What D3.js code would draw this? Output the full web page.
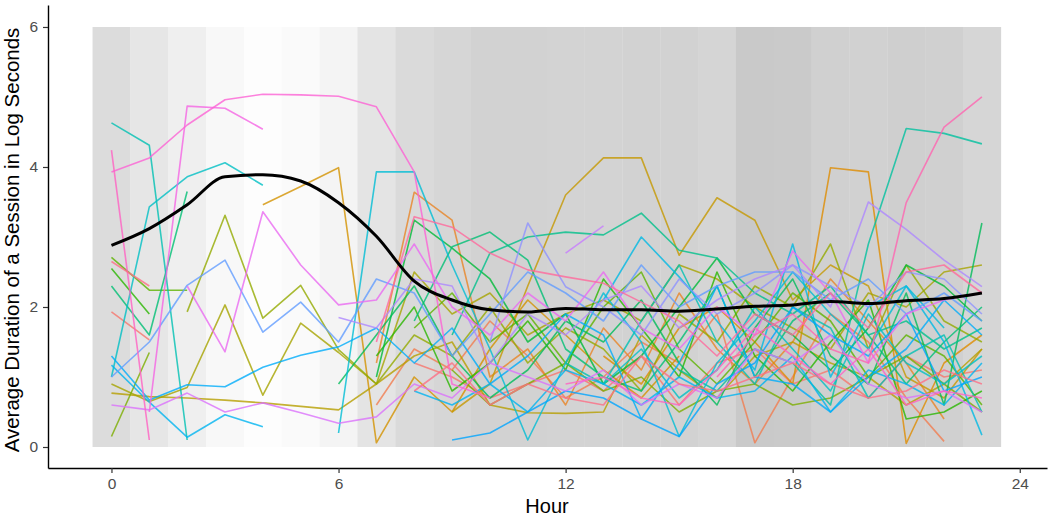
<!DOCTYPE html>
<html>
<head>
<meta charset="utf-8">
<script src="https://cdn.jsdelivr.net/npm/d3@7"></script>
<style>
html,body{margin:0;padding:0;background:#fff;}
svg{display:block;font-family:"Liberation Sans",Arial,sans-serif;}
</style>
</head>
<body>
<svg id="chart" width="1050" height="517"></svg>
<script>
const _ = null;
const hours = d3.range(24);
const xTicks = [0, 6, 12, 18, 24];
const yTicks = [0, 2, 4, 6];
// grey level of the background band for each hour
const hourShade = [220,230,239,248,253,250,244,228,218,214,210,210,211,211,210,210,213,201,202,208,209,207,208,214];
// smoothed average (black line)
const meanValues = [2.88,3.12,3.46,3.86,3.89,3.80,3.49,3.01,2.37,2.10,1.96,1.93,1.98,1.96,1.96,1.94,1.97,2.01,2.03,2.08,2.05,2.09,2.12,2.20];

const s00 = [1.93,1.53,_,_,_,_,_,_,1.2,1.0,0.7,0.9,1.1,0.8,1.3,0.6,1.2,1.4,0.9,1.1,0.7,1.3,1.0,1.1];
const s01 = [_,_,_,_,_,_,_,0.6,1.4,1.1,1.8,1.3,0.7,1.0,1.5,1.2,1.9,0.06,1.0,1.9,1.5,0.7,0.08,_];
const s02 = [_,_,_,_,_,_,_,1.2,3.64,3.24,1.0,1.4,0.6,1.7,1.1,2.2,1.4,0.9,1.5,2.4,1.8,1.2,0.4,_];
const s03 = [_,_,_,_,_,_,_,_,_,_,_,_,_,1.3,0.9,1.7,2.0,1.5,0.9,3.99,3.93,0.05,1.2,1.6];
const s04 = [_,_,_,_,3.46,3.72,3.99,0.06,1.0,0.5,1.4,2.1,1.6,1.1,0.7,1.3,_,_,_,_,_,_,_,_];
const s05 = [_,_,_,_,_,_,_,_,_,0.5,0.9,2.3,3.6,4.13,4.13,2.74,3.56,3.24,2.1,2.6,2.3,1.0,0.7,1.4];
const s06 = [0.77,0.72,0.7,0.67,0.63,0.58,0.53,0.9,1.3,1.5,0.6,0.49,0.48,0.5,1.6,1.1,0.7,1.3,1.5,1.2,1.0,0.6,0.9,1.4];
const s07 = [0.9,0.65,0.85,2.03,0.74,1.77,1.35,0.9,2.5,1.9,2.2,1.6,1.9,2.1,1.8,2.6,2.4,2.0,1.7,1.4,2.2,2.0,2.5,2.6];
const s08 = [_,_,1.93,3.31,1.84,2.31,1.39,0.9,1.6,1.3,2.0,1.2,1.7,1.4,0.8,1.9,1.5,2.3,2.0,2.9,1.4,2.6,1.8,1.5];
const s09 = [0.15,1.35,_,_,_,_,_,_,_,1.1,0.6,0.9,1.2,0.8,1.0,0.5,0.8,0.9,0.6,0.7,1.0,1.3,0.9,0.5];
const s10 = [2.71,2.24,2.24,_,_,_,_,_,1.7,2.2,1.5,1.9,1.2,2.0,2.5,1.4,0.9,1.5,2.2,1.8,1.0,1.6,1.3,0.6];
const s11 = [2.55,1.9,_,_,_,_,_,1.3,2.0,0.8,1.2,1.8,1.1,2.4,1.7,1.0,2.5,1.3,0.8,1.5,2.1,0.4,0.5,0.8];
const s12 = [_,_,_,_,_,_,_,1.0,3.24,2.84,2.4,1.5,1.9,0.9,1.3,2.0,2.7,1.9,1.6,1.1,1.7,2.6,2.3,1.8];
const s13 = [_,_,_,_,_,_,0.9,1.6,2.3,1.3,0.7,1.1,1.8,1.5,2.1,1.2,0.6,1.7,2.4,1.3,0.9,2.2,0.6,3.2];
const s14 = [2.3,1.6,3.65,_,_,_,_,_,1.8,2.86,3.07,2.67,1.4,1.0,0.8,1.5,2.3,1.0,1.8,2.2,1.6,0.9,1.5,2.0];
const s15 = [_,_,_,_,_,_,_,_,_,1.6,2.77,3.0,3.07,3.03,3.34,2.81,2.7,2.2,1.9,2.3,1.6,1.8,1.4,1.7];
const s16 = [_,_,_,_,_,_,_,_,_,_,_,_,_,_,_,1.1,0.8,1.4,1.2,0.6,2.9,4.55,4.48,4.33];
const s17 = [4.63,4.31,0.1,_,_,_,_,_,_,_,_,_,1.2,0.9,1.8,2.6,1.5,0.9,2.0,1.7,0.7,1.3,1.6,0.5];
const s18 = [1.0,3.43,3.86,4.06,3.74,_,_,_,_,_,_,_,_,0.9,1.4,0.7,1.1,2.0,1.4,0.8,1.9,1.2,0.9,1.3];
const s19 = [_,_,_,_,_,_,0.2,3.93,3.93,2.6,1.4,0.1,1.2,2.2,1.5,0.15,1.2,1.8,2.5,1.9,1.4,2.3,1.7,_];
const s20 = [_,_,_,_,_,_,_,_,_,_,_,_,_,2.1,3.0,2.43,1.8,1.1,2.9,1.0,2.0,2.3,1.5,0.17];
const s21 = [1.17,0.64,0.14,0.46,0.29,_,_,_,0.8,0.6,0.9,0.5,1.1,0.9,0.6,1.0,0.7,0.8,1.3,0.5,1.1,0.9,0.6,1.2];
const s22 = [1.3,0.67,0.89,0.86,1.14,1.31,1.43,1.7,1.2,1.7,0.9,1.3,1.9,1.6,0.4,1.2,2.3,1.0,0.9,0.5,1.0,1.4,2.1,1.6];
const s23 = [_,_,_,_,_,_,_,_,_,0.1,0.2,0.5,0.8,0.7,0.4,0.15,0.9,1.2,2.0,1.6,1.3,1.9,0.8,1.0];
const s24 = [1.0,1.5,2.31,2.67,1.64,2.07,1.5,2.4,2.2,1.3,1.9,2.5,2.2,1.8,2.6,2.0,2.3,2.5,2.5,2.1,2.4,1.9,2.2,1.8];
const s25 = [_,_,_,_,_,_,_,_,_,_,1.5,3.2,2.29,2.0,1.6,2.4,1.9,2.2,2.6,2.3,2.0,2.5,2.4,1.9];
const s26 = [_,_,_,_,_,_,1.85,1.7,2.4,2.3,1.2,1.9,1.6,2.1,2.3,1.7,2.1,2.4,2.6,2.0,3.5,3.11,2.67,2.29];
const s27 = [_,_,_,_,_,_,_,_,_,_,_,_,2.77,3.16,_,_,_,_,_,_,_,_,_,_];
const s28 = [0.6,0.53,0.77,0.5,0.63,0.49,0.34,0.43,0.9,0.7,1.2,1.0,0.8,1.1,0.6,0.9,0.7,1.4,1.2,1.6,0.9,0.7,0.8,0.5];
const s29 = [_,_,2.3,1.36,3.36,2.6,2.03,2.1,2.9,2.0,1.6,2.2,1.8,2.5,1.7,1.4,2.0,1.6,2.8,2.2,1.2,1.9,2.1,2.2];
const s30 = [_,0.5,4.87,4.84,4.54,_,_,_,_,_,_,_,_,_,_,_,_,_,_,_,_,_,_,_];
const s31 = [3.93,4.13,4.6,4.96,5.04,5.03,5.01,4.86,3.93,0.9,0.7,_,_,_,_,_,_,_,_,_,_,_,_,_];
const s32 = [4.24,0.1,_,_,_,_,_,_,_,_,_,_,0.9,1.0,0.7,0.6,1.1,1.7,1.3,0.9,1.4,0.6,0.8,0.7];
const s33 = [_,_,_,_,_,_,_,_,_,_,_,_,_,_,_,_,1.0,1.6,1.9,1.4,1.2,3.49,4.57,5.0];
const s34 = [_,_,_,_,_,_,_,1.5,3.29,3.14,2.77,2.53,2.43,2.34,2.07,1.8,1.3,1.9,1.6,2.2,1.7,2.5,2.6,2.2];
const s35 = [2.65,2.3,_,_,_,_,_,_,0.8,1.2,0.6,0.9,0.7,0.6,1.3,0.9,0.8,1.0,1.2,0.9,0.7,0.8,1.1,0.9];

const seriesList = [s00,s01,s02,s03,s04,s05,s06,s07,s08,s09,s10,s11,s12,s13,s14,s15,s16,s17,
                    s18,s19,s20,s21,s22,s23,s24,s25,s26,s27,s28,s29,s30,s31,s32,s33,s34,s35];

// ggplot-like hue palette (polar LUV, C=100, L=65)
function polarLuvHex(L, C, Hdeg) {
  const h = Hdeg * Math.PI / 180;
  const U = C * Math.cos(h), V = C * Math.sin(h);
  const Xn = 95.047, Yn = 100.0, Zn = 108.883;
  const den = Xn + 15 * Yn + 3 * Zn;
  const un = 4 * Xn / den, vn = 9 * Yn / den;
  const Y = L > 8 ? Yn * Math.pow((L + 16) / 116, 3) : Yn * L / 903.3;
  const up = U / (13 * L) + un, vp = V / (13 * L) + vn;
  const X = 9 * Y * up / (4 * vp);
  const Z = (12 - 3 * up - 20 * vp) * Y / (4 * vp);
  const xr = X / 100, yr = Y / 100, zr = Z / 100;
  let r = 3.2404542 * xr - 1.5371385 * yr - 0.4985314 * zr;
  let g = -0.9692660 * xr + 1.8760108 * yr + 0.0415560 * zr;
  let b = 0.0556434 * xr - 0.2040259 * yr + 1.0572252 * zr;
  const gam = c => { c = Math.max(0, Math.min(1, c)); return c <= 0.0031308 ? 12.92 * c : 1.055 * Math.pow(c, 1 / 2.4) - 0.055; };
  return d3.rgb(gam(r) * 255, gam(g) * 255, gam(b) * 255).formatHex();
}

const svg = d3.select("#chart");
const x = d3.scaleLinear().domain([-1.677, 24.72]).range([48, 1047]);
const y = d3.scaleLinear().domain([-0.3, 6.314]).range([468, 5]);
const n = seriesList.length;
const color = i => polarLuvHex(65, 100, 15 + i * 360 / n);

// background bands
svg.append("g").selectAll("rect").data(hours).join("rect")
  .attr("x", h => x(h - 0.5))
  .attr("width", h => x(h + 0.5) - x(h - 0.5) + 0.3)
  .attr("y", y(6))
  .attr("height", y(0) - y(6))
  .attr("fill", h => d3.rgb(hourShade[h], hourShade[h], hourShade[h]).formatHex());

const line = d3.line()
  .defined(d => d != null)
  .x((d, i) => x(hours[i]))
  .y(d => y(d));

svg.append("g").selectAll("path").data(seriesList).join("path")
  .attr("d", d => line(d))
  .attr("fill", "none")
  .attr("stroke", (d, i) => color(i))
  .attr("stroke-width", 1.6)
  .attr("stroke-opacity", 0.8)
  .attr("stroke-linejoin", "round");

svg.append("path")
  .attr("d", d3.line().x((d, i) => x(hours[i])).y(d => y(d)).curve(d3.curveMonotoneX)(meanValues))
  .attr("fill", "none")
  .attr("stroke", "#000")
  .attr("stroke-width", 3);

// axes
const xAxis = svg.append("g").attr("transform", "translate(0,468)")
  .call(d3.axisBottom(x).tickValues(xTicks).tickFormat(d3.format("d")).tickSize(5).tickPadding(5).tickSizeOuter(0));
const yAxis = svg.append("g").attr("transform", "translate(48,0)")
  .call(d3.axisLeft(y).tickValues(yTicks).tickFormat(d3.format("d")).tickSize(5).tickPadding(5).tickSizeOuter(0));
[xAxis, yAxis].forEach(g => {
  g.select(".domain").attr("stroke", "#000").attr("stroke-width", 1.4);
  g.selectAll(".tick line").attr("stroke", "#333").attr("stroke-width", 1.2);
  g.selectAll(".tick text").attr("fill", "#4d4d4d").style("font-size", "15.5px")
    .style("font-family", "'Liberation Sans', Arial, sans-serif");
});

svg.append("text")
  .attr("x", 547).attr("y", 513)
  .attr("text-anchor", "middle")
  .style("font-size", "20px")
  .attr("fill", "#000")
  .text("Hour");

svg.append("text")
  .attr("transform", "translate(19,240) rotate(-90)")
  .attr("text-anchor", "middle")
  .style("font-size", "20.5px")
  .attr("fill", "#000")
  .text("Average Duration of a Session in Log Seconds");
</script>
</body>
</html>
